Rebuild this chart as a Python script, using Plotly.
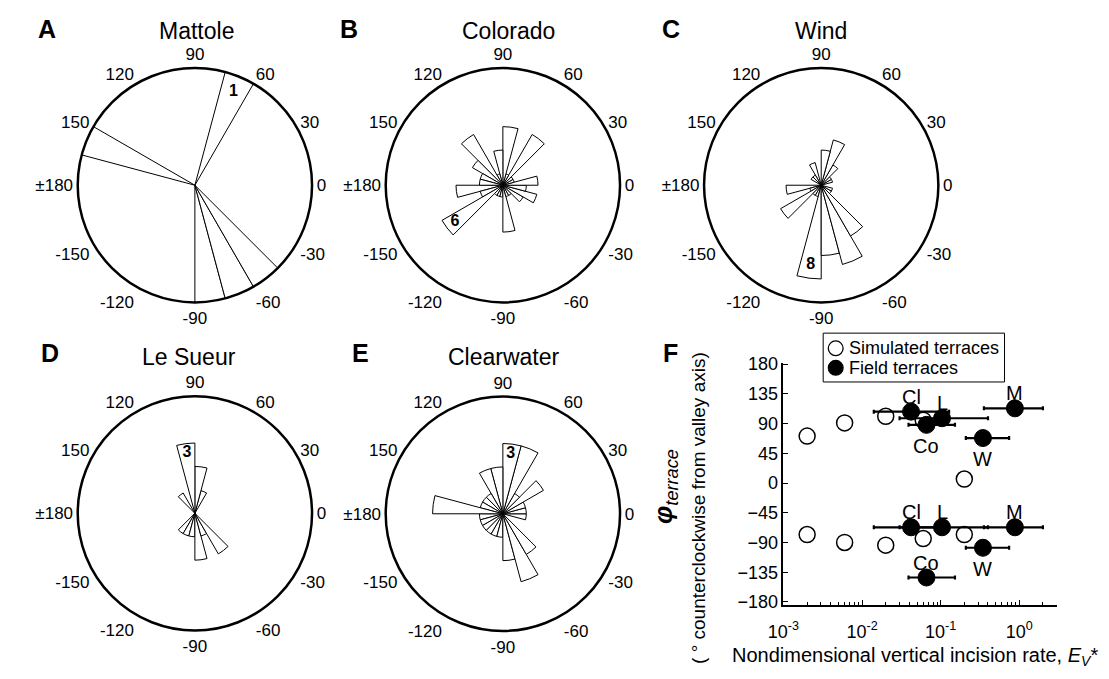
import numpy as np
import plotly.graph_objects as go

FONT = "Liberation Sans, Arial, sans-serif"
W, H = 1109, 679

# ---------------- data ----------------
BIN_EDGES = list(range(-180, 181, 15))  # 24 bins of 15 degrees
# counts per bin, ordered from [-180,-165] to [165,180]
mattole    = [0, 0, 0, 0, 0, 0, 1, 1, 1, 0, 0, 0, 0, 0, 0, 0, 1, 0, 0, 0, 0, 0, 1, 0]
colorado   = [4, 2, 6, 1, 1, 1, 4, 1, 1, 2, 3, 2, 3, 1, 1, 5, 1, 5, 3, 1, 5, 3, 2, 2]
wind       = [3, 1, 4, 1, 1, 8, 6, 7, 5, 1, 1, 0, 0, 1, 1, 2, 4, 3, 0, 2, 1, 1, 0, 0]
le_sueur   = [0, 0, 0, 1, 1, 1, 2, 1, 2, 0, 0, 0, 0, 0, 0, 0, 1, 2, 3, 0, 1, 0, 0, 0]
clearwater = [1, 1, 1, 1, 1, 1, 2, 3, 2, 0, 0, 1, 1, 1, 2, 1, 3, 3, 2, 2, 1, 1, 1, 3]

river_names = ["Mattole", "Colorado", "Wind", "Le Sueur", "Clearwater"]
panel_letters = ["A", "B", "C", "D", "E"]
radial_max = [1, 10, 10, 5, 5]
labelled_bin = [16, 2, 5, 18, 17]   # bin whose count is written on the rose

ang_tickvals = [0, 30, 60, 90, 120, 150, 180, 210, 240, 270, 300, 330]
ang_ticktext = ["0", "30", "60", "90", "120", "150", "±180", "-150", "-120", "-90", "-60", "-30"]

# Panel F
sim_x = [0.002, 0.006, 0.02, 0.06, 0.2]
sim_phi_upper = [71, 91, 101, 95, 6]
sim_phi_lower = [-78, -90, -94, -84, -78]

field_labels = ["Cl", "L", "M", "Co", "W"]
field_x = [0.042, 0.104, 0.88, 0.066, 0.345]
field_x_lo = [0.0141, 0.030, 0.355, 0.039, 0.209]
field_x_hi = [0.128, 0.40, 2.0, 0.152, 0.743]
field_phi_upper = [108, 98, 113, 88, 68]
field_phi_lower = [-67, -67, -67, -143, -98]
label_side_upper = ["above", "above", "above", "below", "below"]
label_side_lower = ["above", "above", "above", "above", "below"]

legend_names = ["Simulated terraces", "Field terraces"]

y_ticks = [-180, -135, -90, -45, 0, 45, 90, 135, 180]
x_major = [1e-3, 1e-2, 1e-1, 1]
x_major_text = ["10<sup>-3</sup>", "10<sup>-2</sup>", "10<sup>-1</sup>", "10<sup>0</sup>"]

# ---------------- figure ----------------
fig = go.Figure()
bin_centers = [(a + b) / 2 for a, b in zip(BIN_EDGES[:-1], BIN_EDGES[1:])]
bin_width = BIN_EDGES[1] - BIN_EDGES[0]
all_counts = [mattole, colorado, wind, le_sueur, clearwater]

centres = [(181.5, 181.5), (494, 181.5), (817, 181.5), (181.5, 517.5), (494, 518)]
R = 120

layout_polars = {}
for i, counts in enumerate(all_counts):
    key = "polar" if i == 0 else f"polar{i+1}"
    fig.add_trace(go.Barpolar(
        r=counts, theta=bin_centers, width=[bin_width] * len(counts),
        marker=dict(color="white", line=dict(color="black", width=1)),
        subplot=key, showlegend=False, hoverinfo="skip"))
    k = labelled_bin[i]
    fig.add_trace(go.Scatterpolar(
        r=[0.86 * counts[k]], theta=[bin_centers[k]], mode="text",
        text=[f"<b>{counts[k]}</b>"],
        textfont=dict(size=16, color="black", family=FONT),
        subplot=key, showlegend=False, hoverinfo="skip"))
    cx, cy = centres[i]
    layout_polars[key] = dict(
        domain=dict(x=[(cx - R) / W, (cx + R) / W], y=[1 - (cy + R) / H, 1 - (cy - R) / H]),
        bgcolor="white", bargap=0,
        radialaxis=dict(visible=False, range=[0, radial_max[i]], showgrid=False),
        angularaxis=dict(rotation=0, direction="counterclockwise",
                         tickmode="array", tickvals=ang_tickvals, ticktext=ang_ticktext,
                         showgrid=False, showline=True, linecolor="black", linewidth=2.5,
                         ticks="", ticklen=0,
                         tickfont=dict(size=17, color="black", family=FONT)),
    )

# Panel F traces
fig.add_trace(go.Scatter(
    x=sim_x + sim_x, y=sim_phi_upper + sim_phi_lower, mode="markers",
    marker=dict(symbol="circle", size=16, color="white", line=dict(color="black", width=1.5)),
    name=legend_names[0], showlegend=False, xaxis="x", yaxis="y"))

err_plus = [hi - x for x, hi in zip(field_x, field_x_hi)]
err_minus = [x - lo for x, lo in zip(field_x, field_x_lo)]
fig.add_trace(go.Scatter(
    x=field_x + field_x, y=field_phi_upper + field_phi_lower, mode="markers",
    marker=dict(symbol="circle", size=17, color="black", line=dict(color="black", width=1)),
    error_x=dict(type="data", symmetric=False, array=err_plus + err_plus,
                 arrayminus=err_minus + err_minus, color="black", thickness=2.2, width=2),
    name=legend_names[1], showlegend=False, xaxis="x", yaxis="y"))

x_left, x_right = 778.7, 1056
y_top, y_bot = 363.3, 611

minor_vals = [m * 10.0 ** e for e in range(-3, 1) for m in range(2, 10)]


def px(x):
    return x / W


def py(y):
    return 1 - y / H


annotations = []
# field-site labels next to the points
for phis, sides in ((field_phi_upper, label_side_upper), (field_phi_lower, label_side_lower)):
    for lab, fx, fy, side in zip(field_labels, field_x, phis, sides):
        annotations.append(dict(text=lab, x=np.log10(fx), y=fy, xref="x", yref="y",
                                showarrow=False, xanchor="center", yanchor="middle",
                                yshift=15 if side == "above" else -21,
                                font=dict(size=20, color="black", family=FONT)))

title_pos = [(183.5, 23.5), (500, 23.5), (816.5, 23.5), (176, 357), (495, 357)]
letter_pos = [(31, 21), (338, 21), (665, 21), (35, 353), (350, 353)]
for name, (tx, ty) in zip(river_names, title_pos):
    annotations.append(dict(text=name, x=px(tx), y=py(ty), xref="paper", yref="paper",
                            showarrow=False, xanchor="center", yanchor="middle",
                            font=dict(size=23, color="black", family=FONT)))
for lt, (tx, ty) in zip(panel_letters + ["F"], letter_pos + [(664, 353)]):
    annotations.append(dict(text=f"<b>{lt}</b>", x=px(tx), y=py(ty), xref="paper", yref="paper",
                            showarrow=False, xanchor="center", yanchor="middle",
                            font=dict(size=25, color="black", family=FONT)))
annotations.append(dict(text="Nondimensional vertical incision rate, <i>E</i><sub><i>V</i></sub>*",
                        x=px(912), y=py(664), xref="paper", yref="paper", showarrow=False,
                        xanchor="center", yanchor="middle",
                        font=dict(size=20, color="black", family=FONT)))
annotations.append(dict(text="<b><i>φ</i></b><sub><i>terrace</i></sub>",
                        x=px(658), y=py(490), xref="paper", yref="paper", showarrow=False,
                        textangle=-90, xanchor="center", yanchor="middle",
                        font=dict(size=26, color="black", family=FONT)))
annotations.append(dict(text="( ° counterclockwise from valley axis)",
                        x=px(693), y=py(512), xref="paper", yref="paper", showarrow=False,
                        textangle=-90, xanchor="center", yanchor="middle",
                        font=dict(size=19, color="black", family=FONT)))

# manual legend (box, symbols, texts)
shapes = [dict(type="rect", xref="paper", yref="paper", x0=px(819), x1=px(1003), y0=py(383), y1=py(333),
               line=dict(color="black", width=1), fillcolor="white", layer="above")]
leg_rows = [348.5, 368.5]
leg_fill = ["white", "black"]
for name, yy, fc in zip(legend_names, leg_rows, leg_fill):
    shapes.append(dict(type="circle", xref="paper", yref="paper",
                       x0=px(831.7 - 7.5), x1=px(831.7 + 7.5), y0=py(yy + 7.5), y1=py(yy - 7.5),
                       line=dict(color="black", width=1.3), fillcolor=fc, layer="above"))
    annotations.append(dict(text=name, x=px(843), y=py(yy), xref="paper", yref="paper",
                            showarrow=False, xanchor="left", yanchor="middle",
                            font=dict(size=18, color="black", family=FONT)))

fig.update_layout(
    width=W, height=H, margin=dict(l=0, r=0, t=0, b=0),
    paper_bgcolor="white", plot_bgcolor="white",
    font=dict(family=FONT, color="black"),
    annotations=annotations, shapes=shapes,
    xaxis=dict(type="log", range=[-3, np.log10(3)],
               domain=[px(x_left), px(x_right)], anchor="y",
               tickmode="array", tickvals=x_major, ticktext=x_major_text,
               ticks="inside", ticklen=5, tickcolor="black", tickwidth=1,
               ticklabelstandoff=10,
               minor=dict(tickmode="array", tickvals=minor_vals, ticks="inside", ticklen=3,
                          tickcolor="black", showgrid=False),
               showline=True, linecolor="black", linewidth=1.5, showgrid=False, zeroline=False,
               tickfont=dict(size=18, color="black", family=FONT)),
    yaxis=dict(range=[-184, 182], domain=[py(y_bot), py(y_top)], anchor="x",
               tickmode="array", tickvals=y_ticks,
               ticktext=[str(v).replace("-", "\u2212") for v in y_ticks],
               ticks="inside", ticklen=5, tickcolor="black",
               showline=True, linecolor="black", linewidth=1.5, showgrid=False, zeroline=False,
               tickfont=dict(size=18, color="black", family=FONT)),
    showlegend=False,
    **layout_polars,
)

fig.write_html("out.html")
